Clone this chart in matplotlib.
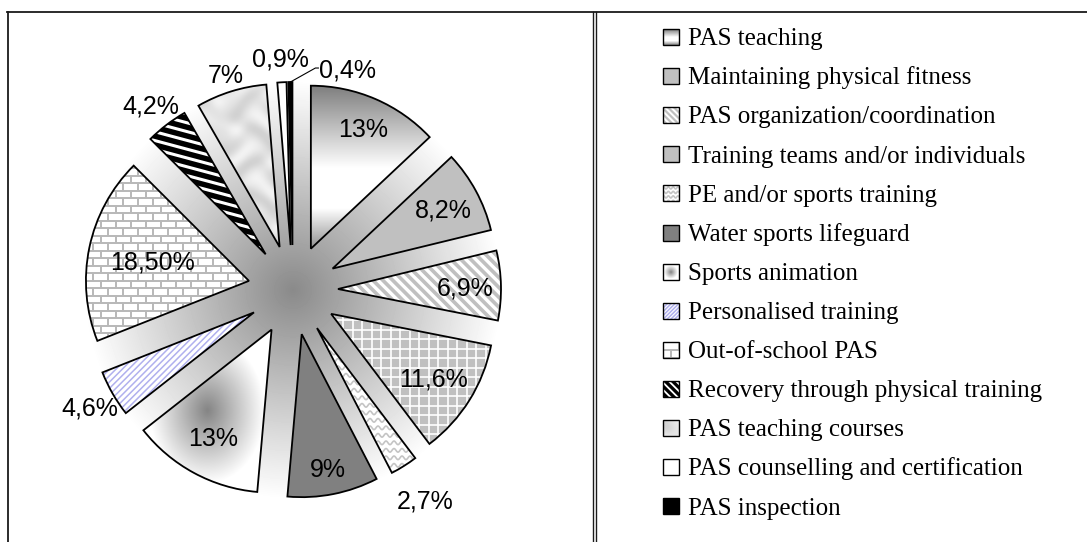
import numpy as np
import matplotlib
matplotlib.use("Agg")
import matplotlib.pyplot as plt
import matplotlib.patches as mpatches
from matplotlib.collections import LineCollection

categories = ["PAS teaching", "Maintaining physical fitness", "PAS organization/coordination",
              "Training teams and/or individuals", "PE and/or sports training",
              "Water sports lifeguard", "Sports animation", "Personalised training",
              "Out-of-school PAS", "Recovery through physical training",
              "PAS teaching courses", "PAS counselling and certification", "PAS inspection"]
shares = [13, 8.2, 6.9, 11.6, 2.7, 9, 13, 4.6, 18.5, 4.2, 7, 0.9, 0.4]
pct_labels = ["13%", "8,2%", "6,9%", "11,6%", "2,7%", "9%", "13%", "4,6%",
              "18,50%", "4,2%", "7%", "0,9%", "0,4%"]

# canvas in pixel units, y axis pointing up
W, H = 1087, 542
CX, CY = 293, H - 290
R = 163
EXPL = 45
# radial position of each value label, measured from the exploded wedge centre
label_k = [0.81, 0.775, 0.78, 0.74, 1.24, 0.836, 0.75, 1.16, 0.605, 1.16, 1.11, 1.15, None]

fig = plt.figure(figsize=(W / 100, H / 100), dpi=100)
ax = fig.add_axes([0, 0, 1, 1])


def patch_bbox(p):
    return p.get_patch_transform().transform_path(p.get_path()).get_extents()


def shade(p, fn, z=2):
    bb = patch_bbox(p)
    nx, ny = max(int(bb.width), 4), max(int(bb.height), 4)
    X, Y = np.meshgrid(np.linspace(bb.x0, bb.x1, nx), np.linspace(bb.y0, bb.y1, ny))
    u = (X - bb.x0) / bb.width
    v = (Y - bb.y0) / bb.height
    im = ax.imshow(fn(u, v, X, Y), cmap="gray", vmin=0, vmax=1, origin="lower",
                   extent=(bb.x0, bb.x1, bb.y0, bb.y1), interpolation="bilinear", zorder=z)
    im.set_clip_path(p)


def draw_lines(p, segs, color, lw, z=2):
    lc = LineCollection(segs, colors=color, linewidths=lw, zorder=z, capstyle="butt")
    ax.add_collection(lc)
    lc.set_clip_path(p)


def parallel(bb, angle, step):
    c = np.array([(bb.x0 + bb.x1) / 2, (bb.y0 + bb.y1) / 2])
    L = np.hypot(bb.width, bb.height) + 2 * step
    d = np.array([np.cos(np.radians(angle)), np.sin(np.radians(angle))])
    n = np.array([-d[1], d[0]])
    return [[c + t * n - d * L / 2, c + t * n + d * L / 2]
            for t in np.arange(-L / 2, L / 2 + step, step)]


def waves(bb, step, amp, period):
    xs = np.arange(bb.x0 - period, bb.x1 + period, 0.5)
    return [np.column_stack([xs, y0 + amp * np.sin(2 * np.pi * xs / period)])
            for y0 in np.arange(bb.y0 - step, bb.y1 + step, step)]


def bricks(bb, bw, bh):
    segs = []
    for k, y0 in enumerate(np.arange(bb.y0 - bh, bb.y1 + bh, bh)):
        segs.append([(bb.x0 - 2, y0), (bb.x1 + 2, y0)])
        off = (k % 2) * bw / 2
        for x in np.arange(bb.x0 - bw + off, bb.x1 + bw, bw):
            segs.append([(x, y0), (x, y0 + bh)])
    return segs


def paint(p, i, small=False):
    bb = patch_bbox(p)
    f = 0.6 if small else 1.0
    if i == 0:
        p.set_facecolor("white")
        shade(p, lambda u, v, X, Y: np.interp(1 - v, [0, 0.5, 0.75, 1], [0.5, 1.0, 1.0, 0.56]))
    elif i == 1:
        p.set_facecolor("#c0c0c0")
    elif i == 2:
        p.set_facecolor("#c0c0c0")
        draw_lines(p, parallel(bb, -45, 7 * f), "white", 2.4 * f)
    elif i == 3:
        p.set_facecolor("#c0c0c0")
        if not small:
            draw_lines(p, parallel(bb, 0, 9.5) + parallel(bb, 90, 9.5), "white", 1.2)
    elif i == 4:
        p.set_facecolor("white")
        draw_lines(p, waves(bb, 7.5 * f, 1.8 * f, 8 * f), "#c4c4c4", 1.2)
    elif i == 5:
        p.set_facecolor("#808080")
    elif i == 6:
        p.set_facecolor("white")
        shade(p, lambda u, v, X, Y: np.interp(np.hypot(u - 0.5, v - 0.5) * 2, [0, 0.9], [0.52, 1.0]))
    elif i == 7:
        p.set_facecolor("white")
        draw_lines(p, parallel(bb, 45, 4.5 * f), "#b0b0ee", 1.1)
    elif i == 8:
        p.set_facecolor("white")
        draw_lines(p, bricks(bb, 15, 7.5) if not small else bricks(bb, 16, 8), "#b8b8b8", 1.4)
    elif i == 9:
        p.set_facecolor("black")
        draw_lines(p, parallel(bb, -15 if not small else -45, 8.5 * f), "white", 2.2 * f)
    elif i == 10:
        p.set_facecolor("#e0e0e0")
        shade(p, lambda u, v, X, Y: 0.885 + 0.035 * np.sin(X / 7 + 2.5 * np.sin(Y / 11))
              + 0.03 * np.sin(Y / 5 + 2 * np.cos(X / 9)))
    elif i == 11:
        p.set_facecolor("white")
    else:
        p.set_facecolor("black")


def outline(p, lw):
    path = p.get_patch_transform().transform_path(p.get_path())
    ax.add_patch(mpatches.PathPatch(path, fill=False, edgecolor="black", linewidth=lw, zorder=4))


# grey glow behind the pie
n = 440
gx = np.linspace(CX - 220, CX + 220, n)
gy = np.linspace(CY - 220, CY + 220, n)
GX, GY = np.meshgrid(gx, gy)
glow = 0.54 + 0.46 * np.clip(np.hypot(GX - CX, GY - CY) / 210, 0, 1)
ax.imshow(glow, cmap="gray", vmin=0, vmax=1, origin="lower", interpolation="bilinear",
          extent=(gx[0], gx[-1], gy[0], gy[-1]), zorder=0)

wedges, _ = ax.pie(shares, radius=R, center=(CX, CY), explode=[EXPL] * len(shares),
                   startangle=90, counterclock=False, frame=True,
                   wedgeprops=dict(edgecolor="none", linewidth=0, zorder=1))

for i, w in enumerate(wedges):
    paint(w, i)
    outline(w, 1.3)
    mid = np.radians((w.theta1 + w.theta2) / 2)
    dx, dy = np.cos(mid), np.sin(mid)
    if label_k[i] is not None:
        x = w.center[0] + label_k[i] * R * dx
        y = w.center[1] + label_k[i] * R * dy
        ax.text(x, y - 9, pct_labels[i], fontsize=18, family="Liberation Sans",
                ha="center", va="baseline", zorder=6)
    else:
        x0, y0 = w.center[0] + R * dx, w.center[1] + R * dy
        ax.plot([x0, x0 + 25, x0 + 28], [y0, y0 + 14, y0 + 14], color="black", lw=0.8, zorder=5)
        ax.text(x0 + 29, y0 + 14 - 9, pct_labels[i], fontsize=18, family="Liberation Sans",
                ha="left", va="baseline", zorder=6)

# legend column on the right
row0, row_step = 37, 39.1
for i, name in enumerate(categories):
    yc = H - (row0 + i * row_step)
    box = mpatches.Rectangle((663, yc - 8), 16, 16, edgecolor="none", zorder=1)
    ax.add_patch(box)
    paint(box, i, small=True)
    outline(box, 1.0)
    ax.text(688, yc - 8.3, name, fontsize=18, family="Liberation Serif",
            ha="left", va="baseline", zorder=6)

# table frame
fc = "#1a1a1a"
ax.plot([7, W], [H - 11.5, H - 11.5], color=fc, lw=1.3, clip_on=False, zorder=7)
ax.plot([7.5, 7.5], [H - 11.5, 0], color=fc, lw=1.3, clip_on=False, zorder=7)
ax.plot([592.5, 592.5], [H - 11.5, 0], color=fc, lw=1.0, clip_on=False, zorder=7)
ax.plot([595.5, 595.5], [H - 11.5, 0], color=fc, lw=1.0, clip_on=False, zorder=7)

ax.set_xlim(0, W)
ax.set_ylim(0, H)
ax.set_aspect("equal")
ax.axis("off")

fig.savefig("out.png", dpi=100, facecolor="white")
